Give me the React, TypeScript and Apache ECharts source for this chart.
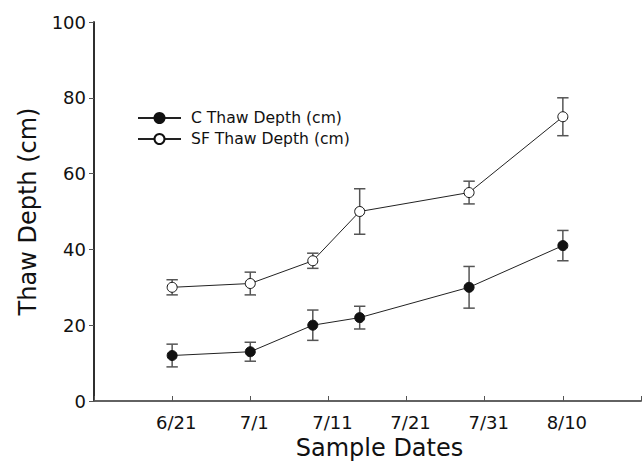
import React, { useEffect, useRef } from "react";
import * as echarts from "echarts";

// Days counted from 6/11
const sampleDays = [10, 20, 28, 34, 48, 60];
const cDepth = [12, 13, 20, 22, 30, 41];
const cErr = [3, 2.5, 4, 3, 5.5, 4];
const sfDepth = [30, 31, 37, 50, 55, 75];
const sfErr = [2, 3, 2, 6, 3, 5];
const xTickDays = [10, 20, 30, 40, 50, 60];
const xTickLabels = ["6/21", "7/1", "7/11", "7/21", "7/31", "8/10"];
const seriesNames = ["C Thaw Depth (cm)", "SF Thaw Depth (cm)"];

const FONT = "DejaVu Sans, Liberation Sans, Arial, sans-serif";

export default function App() {
  const ref = useRef<HTMLDivElement>(null);
  useEffect(() => {
    if (!ref.current) return;
    const chart = echarts.init(ref.current, undefined, { renderer: "svg" });

    const errData = (vals: number[], errs: number[]) =>
      sampleDays.map((d, i) => [d, vals[i] - errs[i], vals[i] + errs[i]]);

    const renderErr = (params: any, api: any) => {
      const x = api.value(0);
      const lo = api.coord([x, api.value(1)]);
      const hi = api.coord([x, api.value(2)]);
      const hw = 5.7;
      const style = { stroke: "#555", lineWidth: 1.5 };
      return {
        type: "group",
        children: [
          { type: "line", shape: { x1: lo[0], y1: lo[1], x2: hi[0], y2: hi[1] }, style },
          { type: "line", shape: { x1: hi[0] - hw, y1: hi[1], x2: hi[0] + hw, y2: hi[1] }, style },
          { type: "line", shape: { x1: lo[0] - hw, y1: lo[1], x2: lo[0] + hw, y2: lo[1] }, style },
        ],
      };
    };

    const axisLabelStyle = { fontFamily: FONT, fontSize: 18, color: "#111" };

    chart.setOption({
      animation: false,
      backgroundColor: "#fff",
      grid: { left: 94, right: 1, top: 22, bottom: 59, containLabel: false },
      legend: {
        left: 137,
        top: 110,
        padding: 0,
        orient: "vertical",
        itemWidth: 43,
        itemHeight: 12.5,
        itemGap: 5,
        selectedMode: false,
        data: seriesNames,
        textStyle: { fontFamily: FONT, fontSize: 15.6, color: "#111", padding: [0, 0, 0, 5] },
      },
      xAxis: [
        {
          type: "value",
          min: 0,
          max: 70,
          interval: 10,
          position: "bottom",
          name: "Sample Dates",
          nameLocation: "middle",
          nameGap: 35,
          nameTextStyle: { fontFamily: FONT, fontSize: 24, color: "#111", padding: [0, 0, 0, 24] },
          splitLine: { show: false },
          axisLine: { lineStyle: { color: "#222", width: 1.5 } },
          axisTick: { inside: true, length: 5, lineStyle: { color: "#555" } },
          axisLabel: {
            ...axisLabelStyle,
            margin: 12,
            padding: [0, 0, 0, 8],
            formatter: (v: number) => {
              const i = xTickDays.indexOf(v);
              return i >= 0 ? xTickLabels[i] : "";
            },
          },
        },
        {
          type: "value",
          min: 0,
          max: 70,
          position: "top",
          splitLine: { show: false },
          axisLine: { show: true, lineStyle: { color: "#666", width: 1.5 } },
          axisTick: { show: false },
          axisLabel: { show: false },
        },
      ],
      yAxis: [
        {
          type: "value",
          min: 0,
          max: 100,
          interval: 20,
          position: "left",
          name: "Thaw Depth (cm)",
          nameLocation: "middle",
          nameGap: 54,
          nameTextStyle: { fontFamily: FONT, fontSize: 24, color: "#111" },
          splitLine: { show: false },
          axisLine: { show: true, lineStyle: { color: "#222", width: 1.5 } },
          axisTick: { inside: false, length: 5, lineStyle: { color: "#555" } },
          axisLabel: { ...axisLabelStyle, margin: 8 },
        },
        {
          type: "value",
          min: 0,
          max: 100,
          interval: 20,
          position: "right",
          splitLine: { show: false },
          axisLine: { show: true, lineStyle: { color: "#222", width: 1.5 } },
          axisTick: { inside: true, length: 5, lineStyle: { color: "#555" } },
          axisLabel: { show: false },
        },
      ],
      series: [
        {
          type: "custom",
          name: "C err",
          renderItem: renderErr,
          data: errData(cDepth, cErr),
          encode: { x: 0, y: [1, 2] },
          z: 1,
          silent: true,
        },
        {
          type: "custom",
          name: "SF err",
          renderItem: renderErr,
          data: errData(sfDepth, sfErr),
          encode: { x: 0, y: [1, 2] },
          z: 1,
          silent: true,
        },
        {
          type: "line",
          name: seriesNames[0],
          data: sampleDays.map((d, i) => [d, cDepth[i]]),
          symbol: "circle",
          symbolSize: 10,
          showAllSymbol: true,
          lineStyle: { color: "#222", width: 1 },
          itemStyle: { color: "#111", borderColor: "#111", borderWidth: 1 },
          z: 3,
        },
        {
          type: "line",
          name: seriesNames[1],
          data: sampleDays.map((d, i) => [d, sfDepth[i]]),
          symbol: "circle",
          symbolSize: 10,
          showAllSymbol: true,
          lineStyle: { color: "#222", width: 1 },
          itemStyle: { color: "#fff", borderColor: "#111", borderWidth: 1 },
          z: 3,
        },
      ],
    });
    return () => chart.dispose();
  }, []);

  return <div ref={ref} style={{ width: 644, height: 465, position: "absolute", left: 0, top: 0 }} />;
}
